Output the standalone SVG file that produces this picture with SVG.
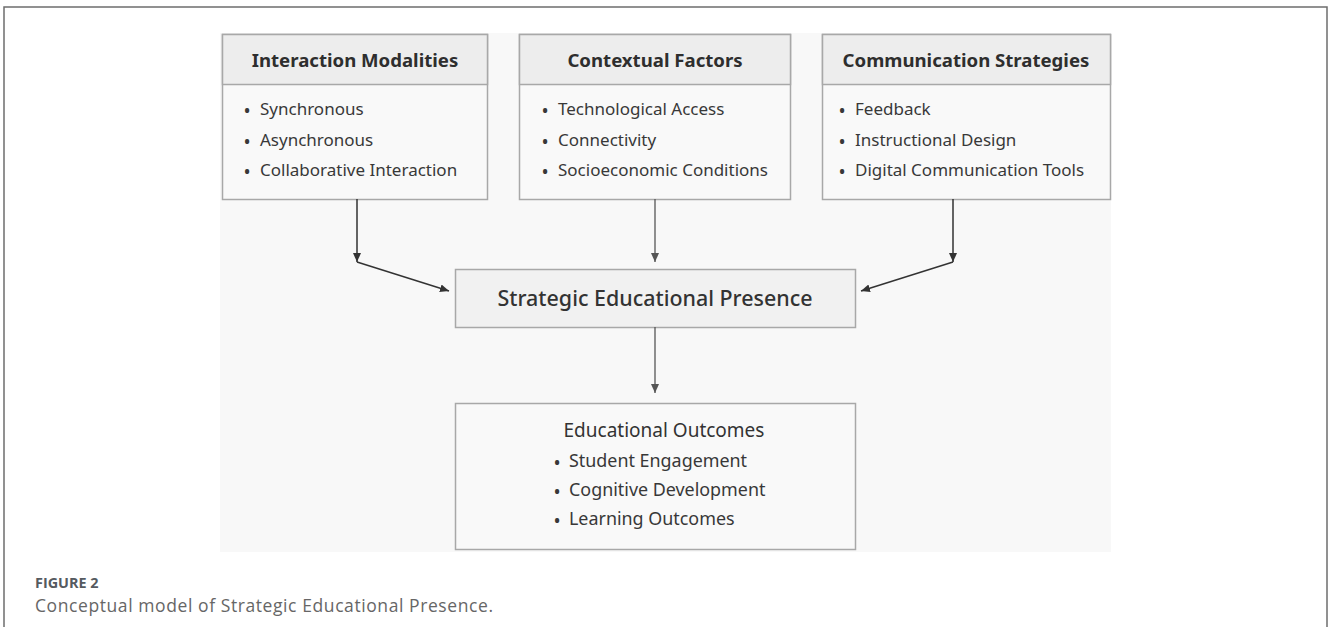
<svg xmlns="http://www.w3.org/2000/svg" width="1328" height="627" viewBox="0 0 1328 627">
  <style>
    .frame { fill: none; stroke: #6e6e6e; stroke-width: 1.5; }
    .panel { fill: #f8f8f8; }
    .box { fill: #f9f9f9; stroke: #a8a8a8; stroke-width: 1.5; }
    .head { fill: #ededed; stroke: #a8a8a8; stroke-width: 1.5; }
    .hdr { font-family: "Noto Sans", "Open Sans", sans-serif; font-weight: 700; font-size: 18.6px; fill: #2e2e2e; text-anchor: middle; }
    .item { font-family: "Noto Sans", "Open Sans", sans-serif; font-size: 17px; fill: #383838; }
    .dot { font-family: "Noto Sans", "Open Sans", sans-serif; font-size: 19px; fill: #383838; text-anchor: middle; }
    .mid { font-family: "Noto Sans", "Open Sans", sans-serif; font-weight: 500; font-size: 21px; fill: #333; text-anchor: middle; }
    .out { font-family: "Noto Sans", "Open Sans", sans-serif; font-size: 19px; fill: #333; text-anchor: middle; }
    .out-item { font-family: "Noto Sans", "Open Sans", sans-serif; font-size: 17.9px; fill: #383838; }
    .link { fill: none; stroke: #333; stroke-width: 1.5; }
    .link-soft { fill: none; stroke: #555; stroke-width: 1.3; }
    .cap-label { font-family: "Open Sans", "Noto Sans", sans-serif; font-weight: 700; font-size: 14.4px; fill: #555a60; }
    .cap-text { font-family: "Open Sans", "Noto Sans", sans-serif; font-size: 17.5px; fill: #666; }
  </style>
  <defs>
    <marker id="arrow" markerUnits="userSpaceOnUse" markerWidth="9" markerHeight="8" refX="9" refY="4" orient="auto">
      <path d="M0,0 L9,4 L0,8 z" fill="#333"/>
    </marker>
    <marker id="arrow-soft" markerUnits="userSpaceOnUse" markerWidth="9" markerHeight="8" refX="9" refY="4" orient="auto">
      <path d="M0,0 L9,4 L0,8 z" fill="#555"/>
    </marker>
  </defs>

  <rect width="1328" height="627" fill="#ffffff"/>
  <!-- page frame, open at the bottom -->
  <path class="frame" d="M4,627 L4,7 L1327,7 L1327,627"/>
  <!-- figure panel -->
  <rect class="panel" x="220" y="33" width="891" height="519"/>

  <g id="interaction-modalities">
    <rect class="box" x="222.5" y="34.5" width="265" height="165"/>
    <rect class="head" x="222.5" y="34.5" width="265" height="50"/>
    <text class="hdr" x="355" y="67">Interaction Modalities</text>
    <text class="dot" x="247" y="118">•</text><text class="item" x="260" y="115">Synchronous</text>
    <text class="dot" x="247" y="149">•</text><text class="item" x="260" y="146">Asynchronous</text>
    <text class="dot" x="247" y="179">•</text><text class="item" x="260" y="176">Collaborative Interaction</text>
  </g>

  <g id="contextual-factors">
    <rect class="box" x="519.5" y="34.5" width="271" height="165"/>
    <rect class="head" x="519.5" y="34.5" width="271" height="50"/>
    <text class="hdr" x="655" y="67">Contextual Factors</text>
    <text class="dot" x="545" y="118">•</text><text class="item" x="558" y="115">Technological Access</text>
    <text class="dot" x="545" y="149">•</text><text class="item" x="558" y="146">Connectivity</text>
    <text class="dot" x="545" y="179">•</text><text class="item" x="558" y="176">Socioeconomic Conditions</text>
  </g>

  <g id="communication-strategies">
    <rect class="box" x="822.5" y="34.5" width="288" height="165"/>
    <rect class="head" x="822.5" y="34.5" width="288" height="50"/>
    <text class="hdr" x="966" y="67">Communication Strategies</text>
    <text class="dot" x="842" y="118">•</text><text class="item" x="855" y="115">Feedback</text>
    <text class="dot" x="842" y="149">•</text><text class="item" x="855" y="146">Instructional Design</text>
    <text class="dot" x="842" y="179">•</text><text class="item" x="855" y="176">Digital Communication Tools</text>
  </g>

  <g id="strategic-educational-presence">
    <rect class="box" x="455.5" y="269.5" width="400" height="58" style="fill:#f1f1f1"/>
    <text class="mid" x="655" y="306" textLength="315" lengthAdjust="spacingAndGlyphs">Strategic Educational Presence</text>
  </g>

  <g id="educational-outcomes">
    <rect class="box" x="455.5" y="403.5" width="400" height="146"/>
    <text class="out" x="664" y="437">Educational Outcomes</text>
    <text class="dot" x="557" y="470">•</text><text class="out-item" x="569" y="467">Student Engagement</text>
    <text class="dot" x="557" y="499">•</text><text class="out-item" x="569" y="496">Cognitive Development</text>
    <text class="dot" x="557" y="528">•</text><text class="out-item" x="569" y="525">Learning Outcomes</text>
  </g>

  <g id="connectors">
    <line class="link" x1="357" y1="199" x2="357" y2="262" marker-end="url(#arrow)"/>
    <line class="link" x1="357" y1="262" x2="449" y2="291" marker-end="url(#arrow)"/>
    <line class="link-soft" x1="655" y1="199" x2="655" y2="262" marker-end="url(#arrow-soft)"/>
    <line class="link" x1="953" y1="199" x2="953" y2="262" marker-end="url(#arrow)"/>
    <line class="link" x1="953" y1="262" x2="861" y2="291" marker-end="url(#arrow)"/>
    <line class="link-soft" x1="655" y1="327" x2="655" y2="393" marker-end="url(#arrow-soft)"/>
  </g>

  <g id="caption">
    <text class="cap-label" x="35" y="588">FIGURE 2</text>
    <text class="cap-text" x="35" y="612" textLength="458" lengthAdjust="spacing">Conceptual model of Strategic Educational Presence.</text>
  </g>
</svg>
